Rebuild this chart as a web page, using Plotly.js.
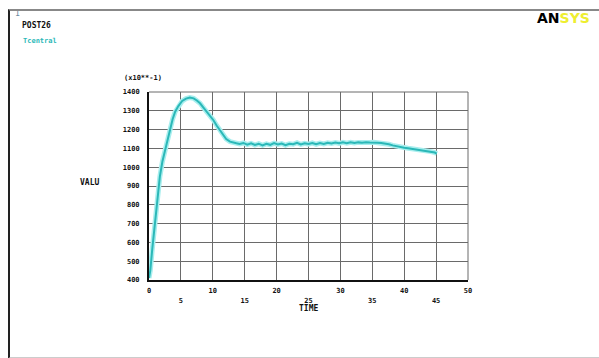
<!DOCTYPE html>
<html>
<head>
<meta charset="utf-8">
<script src="https://cdn.plot.ly/plotly-3.0.1.min.js"></script>
<style>
html,body{margin:0;padding:0;background:#fff;}
#wrap{position:relative;width:599px;height:358px;overflow:hidden;}
#chart{position:absolute;left:0;top:0;width:599px;height:358px;}
#frame{position:absolute;left:8px;top:9px;width:600px;height:346px;border-left:2px solid #222;border-top:2px solid #888;border-bottom:2px solid #ccc;pointer-events:none;}
</style>
</head>
<body>
<div id="wrap"><div id="chart"></div><div id="frame"></div></div>
<script>
// Time history data (TIME vs VALU, values in units of x10**-1)
const time = [0, 0.2, 0.5, 0.9, 1.2, 1.7, 2.1, 2.5, 2.9, 3.3, 3.7, 4.1, 4.6, 5.2, 5.8, 6.4, 7.0, 7.5, 8.0, 8.5,
  9.0, 9.6, 10.1, 10.6, 11.1, 11.6, 12.1, 12.7, 13.2, 13.7,
  14.2, 14.8, 15.4, 16.0, 16.6, 17.2, 17.8, 18.4, 19.0, 19.6, 20.2, 20.8, 21.4, 22.0, 22.6, 23.2, 23.8, 24.4,
  25.0, 25.6, 26.2, 26.8, 27.4, 28.0, 28.6, 29.2, 29.8, 30.4, 31.0, 31.6, 32.2, 32.8, 33.4, 34.0, 34.6, 35.2,
  35.8, 36.4, 37.0, 37.6, 38.2, 38.8, 39.4, 40.0, 40.6, 41.2, 41.8, 42.4, 43.0, 43.6, 44.2, 44.8, 45.1];
const valu = [410, 450, 560, 690, 810, 950, 1030, 1090, 1150, 1205, 1255, 1295, 1325, 1352, 1365, 1370, 1366, 1355, 1340, 1318,
  1298, 1275, 1250, 1222, 1196, 1170, 1150, 1136, 1130, 1127,
  1124, 1129, 1120, 1127, 1118, 1125, 1116, 1124, 1119, 1128, 1121, 1126, 1117, 1125, 1122, 1130, 1121, 1127,
  1123, 1129, 1122, 1128, 1124, 1130, 1126, 1131, 1127, 1132, 1128, 1133, 1129, 1132, 1130, 1133, 1131, 1132,
  1130, 1129, 1126, 1122, 1116, 1111, 1107, 1104, 1101, 1098, 1096, 1093, 1090, 1088, 1083, 1078, 1072];

const xTickVals = [0, 5, 10, 15, 20, 25, 30, 35, 40, 45, 50];
const xTickText = ['0', '<br>5', '10', '<br>15', '20', '<br>25', '30', '<br>35', '40', '<br>45', '50'];
const yTickVals = [400, 500, 600, 700, 800, 900, 1000, 1100, 1200, 1300, 1400];
const yTickText = ['400', '500', '600', '700', '800', '900', '1000', '1100', '1200', '1300', '1400'];

const tickFont = {family: 'DejaVu Sans Mono', size: 7, color: '#111', weight: 'bold'};

const traces = [
  {x: time, y: valu, type: 'scatter', mode: 'lines', line: {color: '#a8eeee', width: 5}, hoverinfo: 'skip', showlegend: false},
  {x: time, y: valu, type: 'scatter', mode: 'lines', line: {color: '#2bb8b8', width: 2}, showlegend: false}
];

const layout = {
  width: 599, height: 358,
  margin: {l: 149, r: 131, t: 92, b: 78},
  paper_bgcolor: '#ffffff', plot_bgcolor: '#ffffff',
  showlegend: false,
  xaxis: {
    range: [0, 50], tickvals: xTickVals, ticktext: xTickText, tickangle: 0,
    showgrid: true, gridcolor: '#6a6a6a', gridwidth: 1,
    showline: true, linecolor: '#111', linewidth: 2, zeroline: false,
    ticks: '', ticklabelstandoff: 3, tickfont: tickFont
  },
  yaxis: {
    range: [400, 1400], tickvals: yTickVals, ticktext: yTickText,
    showgrid: true, gridcolor: '#6a6a6a', gridwidth: 1,
    showline: true, linecolor: '#111', linewidth: 2, zeroline: false,
    ticks: '', ticklabelstandoff: 6, tickfont: tickFont
  },
  shapes: [
    {type: 'line', xref: 'paper', yref: 'paper', x0: 0, x1: 1, y0: 1, y1: 1, line: {color: '#6a6a6a', width: 1}},
    {type: 'line', xref: 'paper', yref: 'paper', x0: 1, x1: 1, y0: 0, y1: 1, line: {color: '#6a6a6a', width: 1}}
  ],
  annotations: [
    {text: '(x10**-1)', xref: 'paper', yref: 'paper', x: -0.085, y: 1.075, xanchor: 'left', yanchor: 'middle', showarrow: false,
     font: {family: 'DejaVu Sans Mono', size: 7, color: '#111', weight: 'bold'}},
    {text: 'VALU', xref: 'paper', yref: 'paper', x: -0.185, y: 0.52, xanchor: 'center', yanchor: 'middle', showarrow: false,
     font: {family: 'DejaVu Sans Mono', size: 8, color: '#111', weight: 'bold'}},
    {text: 'TIME', xref: 'paper', yref: 'paper', x: 0.5, y: -0.15, xanchor: 'center', yanchor: 'middle', showarrow: false,
     font: {family: 'DejaVu Sans Mono', size: 8, color: '#111', weight: 'bold'}},
    {text: '1', xref: 'paper', yref: 'paper', x: -0.425, y: 1.42, xanchor: 'left', yanchor: 'middle', showarrow: false,
     font: {family: 'DejaVu Sans Mono', size: 8, color: '#6a8aa0'}},
    {text: 'POST26', xref: 'paper', yref: 'paper', x: -0.405, y: 1.355, xanchor: 'left', yanchor: 'middle', showarrow: false,
     font: {family: 'DejaVu Sans Mono', size: 8, color: '#111', weight: 'bold'}},
    {text: 'Tcentral', xref: 'paper', yref: 'paper', x: -0.4, y: 1.27, xanchor: 'left', yanchor: 'middle', showarrow: false,
     font: {family: 'DejaVu Sans Mono', size: 7, color: '#2bb8b8', weight: 'bold'}},
    {text: 'AN<span style="color:#eeee30">SYS</span>', xref: 'paper', yref: 'paper', x: 1.21, y: 1.395, xanchor: 'left', yanchor: 'middle', showarrow: false,
     font: {family: 'DejaVu Sans', size: 14, color: '#000', weight: 'bold'}}
  ]
};

Plotly.newPlot('chart', traces, layout, {displayModeBar: false, staticPlot: true});
</script>
</body>
</html>
